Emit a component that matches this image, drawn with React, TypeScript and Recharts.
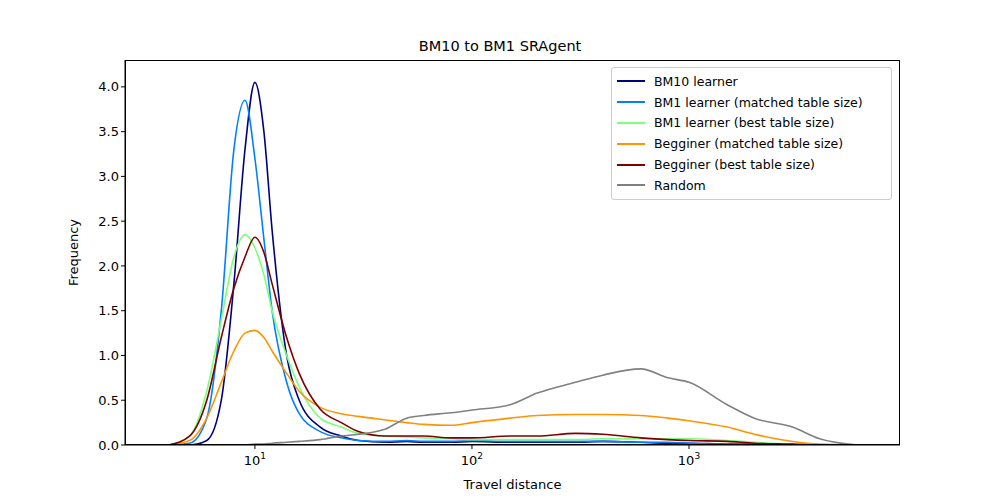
import { LineChart, Line, XAxis, YAxis } from "recharts";

const xs = [4, 5, 6, 7, 8, 9, 10, 11, 12, 14, 16, 20, 25, 30, 40, 50, 60, 80, 100, 150, 200, 300, 400, 600, 800, 1000, 1500, 2000, 3000, 4000, 6000];
const bm10 = [0, 0, 0.05, 0.5, 1.8, 3.3, 4.05, 3.5, 2.4, 1.0, 0.5, 0.2, 0.1, 0.05, 0.03, 0.04, 0.03, 0.03, 0.04, 0.03, 0.03, 0.03, 0.04, 0.03, 0.02, 0.02, 0.01, 0.01, 0, 0, 0];
const bm1m = [0, 0.02, 0.3, 1.5, 3.3, 3.85, 3.2, 2.3, 1.5, 0.7, 0.35, 0.15, 0.08, 0.05, 0.04, 0.05, 0.04, 0.04, 0.05, 0.04, 0.04, 0.04, 0.04, 0.03, 0.03, 0.02, 0.01, 0.01, 0, 0, 0];
const bm1b = [0, 0.1, 0.6, 1.4, 2.1, 2.35, 2.2, 1.9, 1.5, 1.0, 0.65, 0.3, 0.2, 0.13, 0.1, 0.09, 0.08, 0.07, 0.06, 0.06, 0.06, 0.06, 0.07, 0.07, 0.07, 0.07, 0.05, 0.03, 0.01, 0, 0];
const begM = [0, 0.05, 0.3, 0.7, 1.05, 1.25, 1.28, 1.2, 1.05, 0.8, 0.6, 0.42, 0.35, 0.32, 0.28, 0.25, 0.23, 0.22, 0.25, 0.3, 0.33, 0.34, 0.34, 0.33, 0.3, 0.27, 0.2, 0.12, 0.04, 0.01, 0];
const begB = [0, 0.1, 0.5, 1.2, 1.75, 2.1, 2.32, 2.15, 1.8, 1.2, 0.8, 0.4, 0.25, 0.15, 0.1, 0.1, 0.1, 0.08, 0.08, 0.1, 0.1, 0.13, 0.12, 0.08, 0.06, 0.05, 0.04, 0.02, 0.01, 0, 0];
const rnd = [0, 0, 0, 0, 0, 0, 0.01, 0.01, 0.02, 0.03, 0.04, 0.06, 0.1, 0.12, 0.18, 0.3, 0.33, 0.36, 0.39, 0.45, 0.58, 0.7, 0.78, 0.85, 0.75, 0.7, 0.45, 0.3, 0.2, 0.07, 0];
const yTicks = [0, 0.5, 1, 1.5, 2, 2.5, 3, 3.5, 4];

const series = [
  { key: "bm10", name: "BM10 learner", color: "#00007f" },
  { key: "bm1m", name: "BM1 learner (matched table size)", color: "#0080ff" },
  { key: "bm1b", name: "BM1 learner (best table size)", color: "#7dff7a" },
  { key: "begM", name: "Begginer (matched table size)", color: "#ff9400" },
  { key: "begB", name: "Begginer (best table size)", color: "#7f0000" },
  { key: "rnd", name: "Random", color: "#808080" },
];

const data = xs.map((x, i) => ({ x, bm10: bm10[i], bm1m: bm1m[i], bm1b: bm1b[i], begM: begM[i], begB: begB[i], rnd: rnd[i] }));

const font = "DejaVu Sans";

function XTick(props: any) {
  const { x, y, payload } = props;
  const exp = Math.round(Math.log10(payload.value));
  return (
    <text x={x} y={y + 14} textAnchor="middle" fontSize={13} fill="#000" fontFamily={font}>
      10<tspan dy={-6} fontSize={9}>{exp}</tspan>
    </text>
  );
}

export default function App() {
  document.body.style.margin = "0";
  return (
    <div style={{ position: "relative", width: 1000, height: 500, background: "#fff", fontFamily: font }}>
      <div style={{ position: "absolute", top: 38, width: 1000, textAlign: "center", fontSize: 14.5 }}>BM10 to BM1 SRAgent</div>
      <LineChart width={1000} height={500} data={data} margin={{ top: 60, right: 100, left: 65, bottom: 25 }}>
        <XAxis dataKey="x" type="number" scale="log" domain={[2.52, 9380]} ticks={[10, 100, 1000]} tick={<XTick />}
          allowDataOverflow stroke="#000" tickSize={4} height={30}
          label={{ value: "Travel distance", position: "insideBottom", offset: -14, fill: "#000", fontSize: 13, fontFamily: font }} />
        <YAxis domain={[0, 4.3]} ticks={yTicks} tickFormatter={(v: number) => v.toFixed(1)} stroke="#000" tickSize={4}
          tick={{ fill: "#000", fontSize: 13, fontFamily: font }} width={60} allowDataOverflow
          label={{ value: "Frequency", angle: -90, position: "insideLeft", offset: 8, fill: "#000", fontSize: 13, fontFamily: font, style: { textAnchor: "middle" } }} />
        {series.map((s) => (
          <Line key={s.key} dataKey={s.key} name={s.name} type="monotone" stroke={s.color} strokeWidth={1.6} dot={false} isAnimationActive={false} />
        ))}
      </LineChart>
      <div style={{ position: "absolute", left: 125, top: 60, width: 775, height: 385, border: "1px solid #000", boxSizing: "border-box", pointerEvents: "none" }} />
      <div style={{ position: "absolute", left: 611, top: 67, width: 281, border: "1px solid #ccc", borderRadius: 3, background: "#fff", padding: "3px 0", fontSize: 12.5, boxSizing: "border-box" }}>
        {series.map((s) => (
          <div key={s.key} style={{ display: "flex", alignItems: "center", height: 20.8, paddingLeft: 5 }}>
            <span style={{ display: "inline-block", width: 28, height: 2, background: s.color, marginRight: 9 }} />
            {s.name}
          </div>
        ))}
      </div>
    </div>
  );
}
